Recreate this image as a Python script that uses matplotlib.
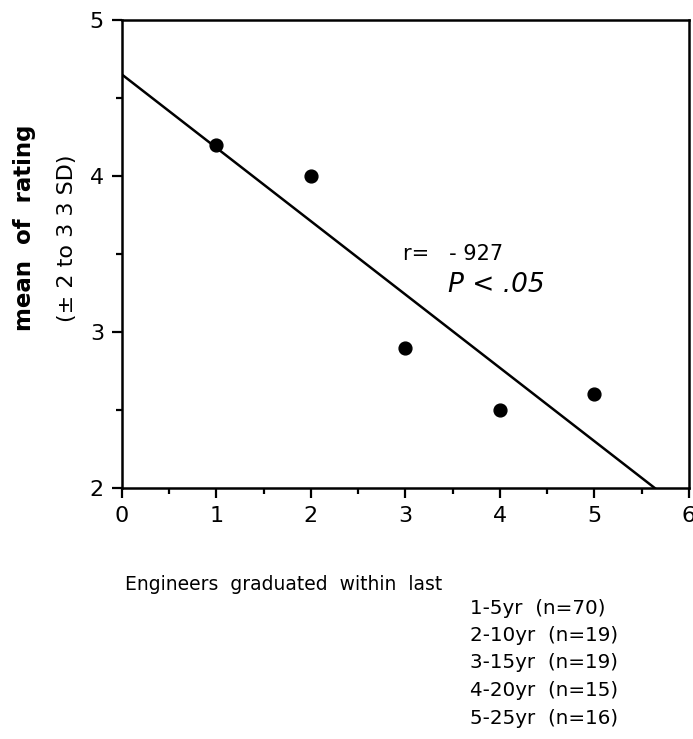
import numpy as np
import matplotlib
matplotlib.use('Agg')
import matplotlib.pyplot as plt
from matplotlib.ticker import MultipleLocator

# group index (x) and mean rating (y)
group = [1, 2, 3, 4, 5]
mean_rating = [4.2, 4.0, 2.9, 2.5, 2.6]
group_labels = ['1-5yr  (n=70)', '2-10yr  (n=19)', '3-15yr  (n=19)',
                '4-20yr  (n=15)', '5-25yr  (n=16)']
r_text = 'r=   - 927'
p_text = 'P < .05'

plt.rcParams['font.family'] = 'DejaVu Sans'

fig = plt.figure(figsize=(6.93, 7.39), dpi=100)
ax = fig.add_axes([0.176, 0.3397, 0.818, 0.6333])

ax.scatter(group, mean_rating, s=85, color='black', zorder=3)

# least squares fit line
slope, intercept = np.polyfit(group, mean_rating, 1)
xs = np.array([0, 6])
ax.plot(xs, intercept + slope * xs, color='black', lw=1.8)

ax.set_xlim(0, 6)
ax.set_ylim(2, 5)
ax.xaxis.set_major_locator(MultipleLocator(1))
ax.xaxis.set_minor_locator(MultipleLocator(0.5))
ax.yaxis.set_major_locator(MultipleLocator(1))
ax.yaxis.set_minor_locator(MultipleLocator(0.5))
ax.tick_params(which='major', direction='out', length=7, width=1.6,
               labelsize=16, pad=6)
ax.tick_params(which='minor', direction='out', length=4, width=1.6)
for sp in ax.spines.values():
    sp.set_linewidth(1.8)

ax.text(2.97, 3.50, r_text, fontsize=15, ha='left', va='center')
ax.text(3.45, 3.30, p_text, fontsize=19, style='italic', ha='left', va='center')

# y-axis label in two lines
fig.text(25 / 693, 1 - 228 / 739, 'mean  of  rating', rotation=90,
         fontsize=16.5, fontweight='bold', ha='center', va='center')
fig.text(67 / 693, 1 - 238 / 739, '(\u00b1 2 to 3 3 SD)', rotation=90,
         fontsize=16, ha='center', va='center')

fig.text(125 / 693, 1 - 585 / 739, 'Engineers  graduated  within  last',
         fontsize=13.5, ha='left', va='center')
for i, lab in enumerate(group_labels):
    fig.text(470 / 693, 1 - (608 + 27.5 * i) / 739, lab,
             fontsize=14.3, ha='left', va='center')

fig.savefig('out.png', dpi=100)
